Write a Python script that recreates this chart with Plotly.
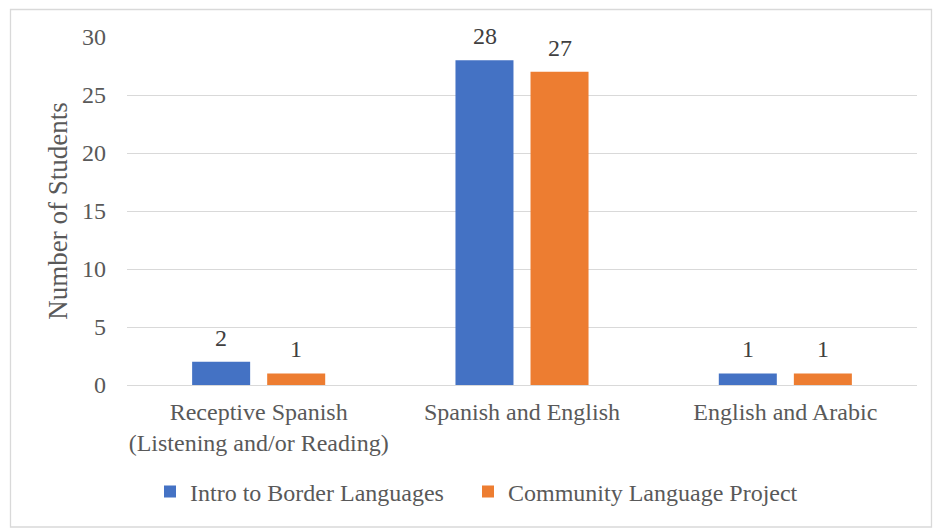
import plotly.graph_objects as go

categories = ["Receptive Spanish<br>(Listening and/or Reading)",
              "Spanish and English",
              "English and Arabic"]
intro_border = [2, 28, 1]
community_project = [1, 27, 1]
series_names = ["Intro to Border Languages", "Community Language Project"]
y_ticks = [0, 5, 10, 15, 20, 25, 30]

FONT = "Liberation Serif"
TEXT_GRAY = "#595959"
FS = 24

fig = go.Figure()
fig.add_trace(go.Bar(
    x=categories, y=intro_border, name=series_names[0],
    marker=dict(color="#4472C4", line=dict(width=0)), legend="legend",
))
fig.add_trace(go.Bar(
    x=categories, y=community_project, name=series_names[1],
    marker=dict(color="#ED7D31", line=dict(width=0)), legend="legend2",
))

W, H = 933, 529
L, R, T, B = 127, 16, 37, 144
pw, ph = W - L - R, H - T - B

def px_x(p):
    return (p - L) / pw

def px_y(p):
    return (H - B - p) / ph

# value labels above each bar, offset to the bar's slot within its group
slot = 75
annotations = []
for vals, shift in ((intro_border, -slot / 2), (community_project, slot / 2)):
    for cat, v in zip(categories, vals):
        annotations.append(dict(
            x=cat, y=v, xref="x", yref="y", text=str(v), showarrow=False,
            xshift=shift, yshift=9, yanchor="bottom",
            font=dict(family=FONT, size=FS, color="#404040"),
        ))

legend_style = dict(
    orientation="h", xanchor="left", yanchor="middle", y=px_y(492),
    font=dict(family=FONT, size=FS, color=TEXT_GRAY),
    itemwidth=30, bgcolor="rgba(0,0,0,0)",
)

fig.update_layout(
    width=W, height=H,
    margin=dict(l=L, r=R, t=T, b=B, autoexpand=False),
    paper_bgcolor="white", plot_bgcolor="white",
    barmode="group", bargap=0.43, bargroupgap=0.227,
    font=dict(family=FONT, size=FS, color=TEXT_GRAY),
    showlegend=True,
    legend=dict(legend_style, x=px_x(150)),
    legend2=dict(legend_style, x=px_x(468)),
    xaxis=dict(
        showgrid=False, showline=False, zeroline=False,
        tickfont=dict(family=FONT, size=FS, color=TEXT_GRAY),
        ticks="", ticklabelstandoff=10, automargin=False,
    ),
    yaxis=dict(
        range=[0, 30], tickvals=y_ticks,
        showgrid=True, gridcolor="#D9D9D9", gridwidth=1.3,
        zeroline=True, zerolinecolor="#D9D9D9", zerolinewidth=1.3,
        showline=False, ticks="",
        tickfont=dict(family=FONT, size=FS, color=TEXT_GRAY),
        ticklabelstandoff=20, automargin=False,
        title=dict(text="Number of Students", standoff=6,
                   font=dict(family=FONT, size=27, color=TEXT_GRAY)),
    ),
    annotations=annotations,
    shapes=[dict(
        type="rect", xref="paper", yref="paper",
        x0=px_x(10.5), x1=px_x(931.5), y0=px_y(527), y1=px_y(9.5),
        line=dict(color="#D9D9D9", width=1.3), fillcolor="rgba(0,0,0,0)",
        layer="below",
    )],
)

fig.write_html("out.html")
